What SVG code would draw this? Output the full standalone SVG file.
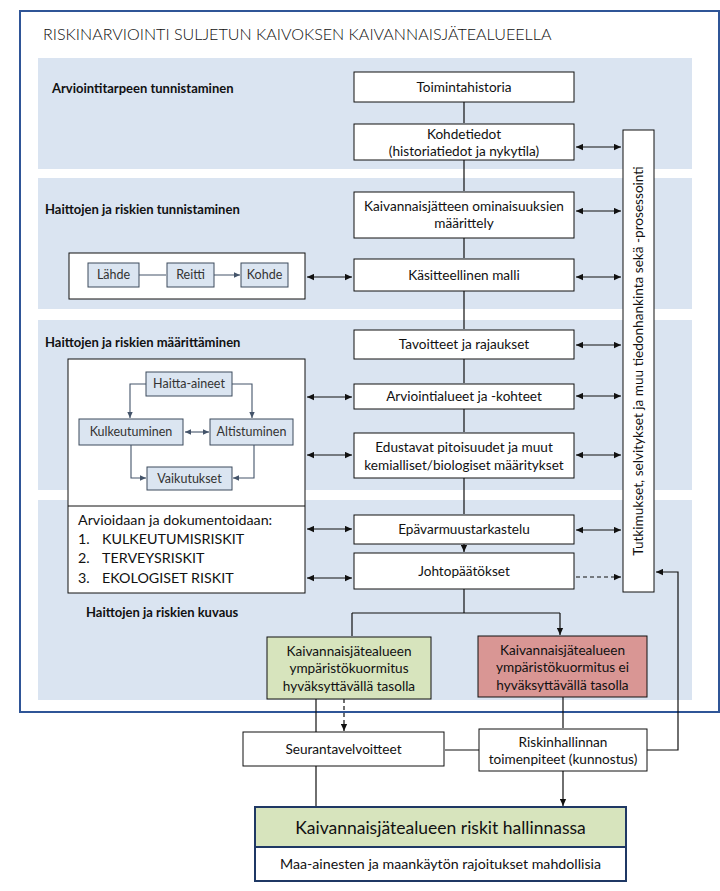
<svg xmlns="http://www.w3.org/2000/svg" width="720" height="891" viewBox="0 0 720 891">
<style>
text{font-family:Lato,"Open Sans","Liberation Sans",sans-serif;fill:#111;font-size:13.6px}
.c{text-anchor:middle}
.b{font-weight:bold;font-size:13px}
.band{fill:#dae4f1}
.box{fill:#fff;stroke:#111;stroke-width:1}
.ibox{fill:#dbe5f1;stroke:#3d4b5c;stroke-width:1}
.ln{fill:none;stroke:#111;stroke-width:1.2}
.il{fill:none;stroke:#44546a;stroke-width:1.1}
.it{fill:#333;font-size:12.5px}
.lst{font-size:14.3px}
</style>
<defs>
<marker id="ah" viewBox="0 0 10 10" refX="10" refY="5" markerWidth="8" markerHeight="7" orient="auto-start-reverse" markerUnits="userSpaceOnUse"><path d="M0,0.5 L10,5 L0,9.5 z" fill="#111"/></marker>
<marker id="ag" viewBox="0 0 10 10" refX="10" refY="5" markerWidth="7" markerHeight="6" orient="auto-start-reverse" markerUnits="userSpaceOnUse"><path d="M0,0.5 L10,5 L0,9.5 z" fill="#44546a"/></marker>
</defs>
<rect width="720" height="891" fill="#fff"/>
<g id="frame">
<rect x="20" y="11" width="699" height="701" fill="#fff" stroke="#2f5597" stroke-width="2"/>
<text x="43" y="40" style="font-size:16.1px;font-weight:300">RISKINARVIOINTI SULJETUN KAIVOKSEN KAIVANNAISJÄTEALUEELLA</text>
</g>
<g id="bands">
<rect class="band" x="38" y="58" width="654" height="111"/>
<rect class="band" x="38" y="178" width="654" height="131"/>
<rect class="band" x="38" y="320" width="654" height="170"/>
<rect class="band" x="38" y="500" width="654" height="200"/>
<text class="b" x="52" y="93">Arviointitarpeen tunnistaminen</text>
<text class="b" x="45" y="214">Haittojen ja riskien tunnistaminen</text>
<text class="b" x="45" y="347">Haittojen ja riskien määrittäminen</text>
<text class="b" x="86" y="617">Haittojen ja riskien kuvaus</text>
</g>
<g id="n-toimintahistoria"><rect class="box" x="354" y="72" width="220" height="30"/><text class="c" x="464" y="92">Toimintahistoria</text></g>
<g id="n-kohdetiedot"><rect class="box" x="354" y="124" width="220" height="36"/><text class="c" x="464" y="139">Kohdetiedot</text><text class="c" x="464" y="156">(historiatiedot ja nykytila)</text></g>
<g id="n-ominaisuudet"><rect class="box" x="354" y="192" width="220" height="46"/><text class="c" x="464" y="211">Kaivannaisjätteen ominaisuuksien</text><text class="c" x="464" y="228">määrittely</text></g>
<g id="n-malli"><rect class="box" x="354" y="259" width="220" height="32"/><text class="c" x="464" y="280">Käsitteellinen malli</text></g>
<g id="n-tavoitteet"><rect class="box" x="354" y="330" width="220" height="29"/><text class="c" x="464" y="349">Tavoitteet ja rajaukset</text></g>
<g id="n-arviointialueet"><rect class="box" x="354" y="384" width="220" height="25"/><text class="c" x="464" y="401">Arviointialueet ja -kohteet</text></g>
<g id="n-edustavat"><rect class="box" x="354" y="433" width="220" height="45"/><text class="c" x="464" y="452">Edustavat pitoisuudet ja muut</text><text class="c" x="464" y="470">kemialliset/biologiset määritykset</text></g>
<g id="n-epavarmuus"><rect class="box" x="354" y="515" width="220" height="29"/><text class="c" x="464" y="534">Epävarmuustarkastelu</text></g>
<g id="n-johtopaatokset"><rect class="box" x="354" y="553" width="220" height="36"/><text class="c" x="464" y="576">Johtopäätökset</text></g>
<g id="n-tutkimukset"><rect class="box" x="623" y="130" width="31" height="462"/><text class="c" transform="translate(643 361) rotate(-90)">Tutkimukset, selvitykset ja muu tiedonhankinta sekä -prosessointi</text></g>
<g id="n-lrk">
<rect class="box" x="69" y="253" width="236" height="46"/>
<rect class="ibox" x="88" y="263" width="51" height="24"/><text class="c it" x="113.5" y="279">Lähde</text>
<rect class="ibox" x="167" y="263" width="47" height="24"/><text class="c it" x="190.5" y="279">Reitti</text>
<rect class="ibox" x="241" y="263" width="47" height="24"/><text class="c it" x="264.5" y="279">Kohde</text>
<path class="il" d="M139,275 H166 M214,275 H240" marker-end="url(#ag)"/>
</g>
<g id="n-prosessi">
<rect class="box" x="68" y="359" width="237" height="234"/>
<line x1="68" y1="506" x2="305" y2="506" stroke="#111" stroke-width="1"/>
<rect class="ibox" x="146" y="372" width="86" height="24"/><text class="c it" x="189" y="388">Haitta-aineet</text>
<rect class="ibox" x="79" y="419" width="104" height="26"/><text class="c it" x="131" y="436">Kulkeutuminen</text>
<rect class="ibox" x="210" y="419" width="83" height="26"/><text class="c it" x="251.5" y="436">Altistuminen</text>
<rect class="ibox" x="147" y="467" width="85" height="23"/><text class="c it" x="189.5" y="483">Vaikutukset</text>
<path class="il" d="M146,384 H130 V418" marker-end="url(#ag)"/>
<path class="il" d="M232,384 H252 V418" marker-end="url(#ag)"/>
<path class="il" d="M185,432 H209" marker-start="url(#ag)" marker-end="url(#ag)"/>
<path class="il" d="M131,445 V478 H146" marker-end="url(#ag)"/>
<path class="il" d="M254,445 V478 H233" marker-end="url(#ag)"/>
<text class="lst" x="78" y="525">Arvioidaan ja dokumentoidaan:</text>
<text class="lst" x="78" y="544">1.</text><text class="lst" x="102" y="544">KULKEUTUMISRISKIT</text>
<text class="lst" x="78" y="563">2.</text><text class="lst" x="102" y="563">TERVEYSRISKIT</text>
<text class="lst" x="78" y="583">3.</text><text class="lst" x="102" y="583">EKOLOGISET RISKIT</text>
</g>
<g id="n-hyvaksyttava"><rect x="267" y="637" width="164" height="62" fill="#d7e4bd" stroke="#111"/><text class="c" x="349" y="656">Kaivannaisjätealueen</text><text class="c" x="349" y="673">ympäristökuormitus</text><text class="c" x="349" y="691">hyväksyttävällä tasolla</text></g>
<g id="n-eihyvaksyttava"><rect x="478" y="636" width="169" height="61" fill="#d99694" stroke="#111"/><text class="c" x="562.5" y="655">Kaivannaisjätealueen</text><text class="c" x="562.5" y="672">ympäristökuormitus ei</text><text class="c" x="562.5" y="690">hyväksyttävällä tasolla</text></g>
<g id="n-seuranta"><rect class="box" x="243" y="732" width="201" height="34"/><text class="c" x="343.5" y="754">Seurantavelvoitteet</text></g>
<g id="n-riskinhallinta"><rect class="box" x="479" y="729" width="168" height="42"/><text class="c" x="563" y="747">Riskinhallinnan</text><text class="c" x="563" y="764">toimenpiteet (kunnostus)</text></g>
<g id="n-hallinnassa">
<rect x="255" y="807" width="371" height="40" fill="#d7e4bd"/>
<rect x="255" y="847" width="371" height="34" fill="#fff"/>
<rect x="255" y="807" width="371" height="74" fill="none" stroke="#1f3864" stroke-width="2"/>
<line x1="255" y1="847" x2="626" y2="847" stroke="#1f3864" stroke-width="2"/>
<text class="c" x="440.5" y="834" style="font-size:17.5px">Kaivannaisjätealueen riskit hallinnassa</text>
<text class="c" x="440.5" y="869" style="font-size:14.2px">Maa-ainesten ja maankäytön rajoitukset mahdollisia</text>
</g>
<g id="connectors">
<path class="ln" d="M464,102 V123 M464,160 V191 M464,238 V258 M464,291 V329 M464,359 V383 M464,409 V432 M464,478 V514 M464,544 V552" marker-end="url(#ah)"/>
<g marker-start="url(#ah)" marker-end="url(#ah)">
<line class="ln" x1="576" y1="147" x2="621" y2="147"/>
<line class="ln" x1="576" y1="211" x2="621" y2="211"/>
<line class="ln" x1="576" y1="277" x2="621" y2="277"/>
<line class="ln" x1="576" y1="345" x2="621" y2="345"/>
<line class="ln" x1="576" y1="396" x2="621" y2="396"/>
<line class="ln" x1="576" y1="455" x2="621" y2="455"/>
<line class="ln" x1="576" y1="530" x2="621" y2="530"/>
<line class="ln" x1="307" y1="277" x2="352" y2="277"/>
<line class="ln" x1="307" y1="397" x2="352" y2="397"/>
<line class="ln" x1="307" y1="455" x2="352" y2="455"/>
<line class="ln" x1="307" y1="529" x2="352" y2="529"/>
<line class="ln" x1="307" y1="578" x2="352" y2="578"/>
</g>
<line class="ln" x1="576" y1="577" x2="621" y2="577" stroke-dasharray="4,3" marker-end="url(#ah)"/>
<path class="ln" d="M464,589 V613 M352,613 H560"/>
<path class="ln" d="M352,613 V636 M560,613 V635" marker-end="url(#ah)"/>
<line class="ln" x1="316" y1="699" x2="316" y2="732"/>
<line class="ln" x1="344" y1="699" x2="344" y2="731" stroke-dasharray="4,3" marker-end="url(#ah)"/>
<path class="ln" d="M563,697 V728 M479,750 H445 M316,766 V806 M563,771 V806" marker-end="url(#ah)"/>
<path class="ln" d="M647,750 H678 V572 H656" marker-end="url(#ah)"/>
</g>
</svg>
